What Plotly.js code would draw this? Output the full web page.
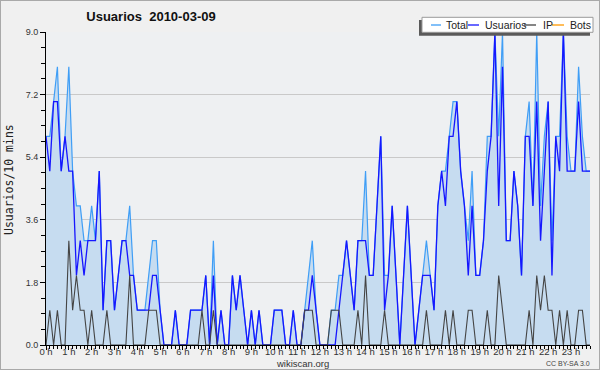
<!DOCTYPE html>
<html>
<head>
<meta charset="utf-8">
<script src="https://cdn.plot.ly/plotly-3.0.1.min.js"></script>
<style>
  html, body { margin: 0; padding: 0; background: #f0f0f0; }
  #wrap { position: relative; width: 600px; height: 370px; }
  #chart { width: 600px; height: 370px; }
  #frame { position: absolute; left: 0; top: 0; width: 600px; height: 370px; box-sizing: border-box; border: 1px solid #a9a9a9; pointer-events: none; }
</style>
</head>
<body>
<div id="wrap"><div id="chart"></div><div id="frame"></div></div>
<script>
// 10-minute intervals, 144 points (0:00 .. 23:50)
const total = [
  6,6,7,8,5,6,8,5,4,4,
  3,3,4,3,5,1,3,3,1,2,
  3,3,4,2,1,1,1,2,3,3,
  1,0,0,0,1,0,0,0,1,1,
  1,1,2,0,3,0,1,0,0,2,
  1,2,1,0,1,0,1,0,0,0,
  1,1,1,0,0,1,0,0,1,2,
  3,1,0,0,0,1,1,2,2,3,
  2,1,3,3,5,2,2,4,6,2,
  2,4,2,0,2,4,2,0,1,2,
  3,2,1,4,5,5,6,7,7,5,
  4,3,5,2,2,3,6,6,9,6,
  9,3,3,5,4,2,6,7,4,9,
  4,6,7,3,6,6,9,6,5,5,
  8,6,5,5
];
const usuarios = [
  6,5,7,7,5,6,5,5,2,3,
  2,3,3,3,5,1,3,3,1,2,
  3,3,2,2,1,1,1,1,2,2,
  1,0,0,0,1,0,0,0,1,1,
  1,1,2,0,2,0,1,0,0,2,
  1,2,1,0,1,0,1,0,0,0,
  1,1,1,0,0,1,0,0,1,1,
  2,1,0,0,0,0,0,1,2,3,
  2,1,3,3,3,2,2,4,6,1,
  2,4,2,0,2,4,2,0,1,2,
  2,2,1,4,5,4,6,6,7,5,
  4,2,4,2,2,3,5,6,9,4,
  8,3,3,5,4,2,6,6,4,7,
  3,5,7,2,6,5,9,5,5,5,
  7,5,5,5
];
const ip = [
  0,1,0,1,0,0,3,1,2,1,
  1,0,1,0,0,0,1,0,0,0,
  0,0,2,0,0,0,0,1,1,1,
  0,0,0,0,0,0,0,0,0,0,
  0,1,0,0,1,0,0,0,0,0,
  0,0,0,0,0,0,0,0,0,0,
  0,0,0,0,0,0,0,0,1,1,
  1,0,0,0,0,1,1,1,0,0,
  0,0,1,0,2,0,0,0,0,1,
  0,0,0,0,0,0,0,0,0,0,
  1,0,0,0,0,1,0,1,0,0,
  0,1,1,0,0,0,1,0,0,2,
  1,0,0,0,0,0,0,1,0,2,
  1,2,1,1,0,1,0,1,0,0,
  1,1,0,0
];
const bots = [
  0,0,0,0,0,0,0,0,0,0, 0,0,0,0,0,0,0,0,0,0,
  0,0,0,0,0,0,0,0,0,0, 0,0,0,0,0,0,0,0,0,0,
  0,0,0,0,0,0,0,0,0,0, 0,0,0,0,0,0,0,0,0,0,
  0,0,0,0,0,0,0,0,0,0, 0,0,0,0,0,0,0,0,0,0,
  0,0,0,0,0,0,0,0,0,0, 0,0,0,0,0,0,0,0,0,0,
  0,0,0,0,0,0,0,0,0,0, 0,0,0,0,0,0,0,0,0,0,
  0,0,0,0,0,0,0,0,0,0, 0,0,0,0,0,0,0,0,0,0,
  0,0,0,0
];
const hourLabels = ["0 h","1 h","2 h","3 h","4 h","5 h","6 h","7 h","8 h","9 h","10 h","11 h",
  "12 h","13 h","14 h","15 h","16 h","17 h","18 h","19 h","20 h","21 h","22 h","23 h"];
const seriesNames = ["Total", "Usuarios", "IP", "Bots"];
const seriesColors = ["#3f9ef6", "#1616ff", "#444444", "#ff9a00"];

const xs = total.map((_, i) => i / 6);

const W = 600, H = 370;
const M = { l: 46, r: 10, t: 32, b: 25 };
const PW = W - M.l - M.r, PH = H - M.t - M.b;
const px = v => (v - M.l) / PW;
const py = v => (H - M.b - v) / PH;

const traces = [
  { x: xs, y: bots, type: 'scatter', mode: 'lines', name: seriesNames[3],
    line: { color: seriesColors[3], width: 1.2 }, hoverinfo: 'skip' },
  { x: xs, y: total, type: 'scatter', mode: 'lines', name: seriesNames[0],
    line: { color: seriesColors[0], width: 1.2 }, fill: 'tozeroy', fillcolor: '#c6dcf0' },
  { x: xs, y: usuarios, type: 'scatter', mode: 'lines', name: seriesNames[1],
    line: { color: seriesColors[1], width: 1.3 } },
  { x: xs, y: ip, type: 'scatter', mode: 'lines', name: seriesNames[2],
    line: { color: seriesColors[2], width: 1.1 } }
];

// manual legend
const legItems = [
  { line: [431, 441], text: 444 },
  { line: [468, 479], text: 483 },
  { line: [524, 536], text: 541 },
  { line: [552, 564], text: 568 }
];
const shapes = [
  { type: 'rect', xref: 'paper', yref: 'paper', x0: px(419), x1: px(590), y0: py(35.7), y1: py(20),
    fillcolor: '#5a5a5a', line: { width: 0 }, layer: 'above' },
  { type: 'rect', xref: 'paper', yref: 'paper', x0: px(422), x1: px(593), y0: py(32.3), y1: py(17.3),
    fillcolor: '#ffffff', line: { color: '#9a9a9a', width: 1 }, layer: 'above' }
];
const annotations = [];
legItems.forEach((it, k) => {
  shapes.push({ type: 'line', xref: 'paper', yref: 'paper', x0: px(it.line[0]), x1: px(it.line[1]),
    y0: py(25), y1: py(25), line: { color: seriesColors[k], width: 1.3 }, layer: 'above' });
  annotations.push({ xref: 'paper', yref: 'paper', x: px(it.text), y: py(25), xanchor: 'left', yanchor: 'middle',
    text: seriesNames[k], showarrow: false, font: { family: 'Liberation Sans, Arial, sans-serif', size: 10.5, color: '#222' } });
});
annotations.push({ xref: 'paper', yref: 'paper', x: px(9), y: py(180), textangle: -90, xanchor: 'center', yanchor: 'middle',
  text: 'Usuarios/10 mins', showarrow: false, font: { family: 'DejaVu Sans Mono, monospace', size: 11.5, color: '#222' } });
annotations.push({ xref: 'paper', yref: 'paper', x: px(302), y: py(363), xanchor: 'center', yanchor: 'middle',
  text: 'wikiscan.org', showarrow: false, font: { family: 'Liberation Sans, Arial, sans-serif', size: 9.5, color: '#333' } });
annotations.push({ xref: 'paper', yref: 'paper', x: px(592), y: py(363), xanchor: 'right', yanchor: 'middle',
  text: 'CC BY-SA 3.0', showarrow: false, font: { family: 'Liberation Sans, Arial, sans-serif', size: 7, color: '#444' } });

const layout = {
  width: W, height: H,
  margin: M,
  paper_bgcolor: '#f0f0f0',
  plot_bgcolor: '#eef0f2',
  showlegend: false,
  title: { text: 'Usuarios  2010-03-09', x: 151 / W, xref: 'container', xanchor: 'center',
    y: 1 - 16 / H, yref: 'container', yanchor: 'middle',
    font: { family: 'Liberation Sans, Arial, sans-serif', size: 13, color: '#111', weight: 'bold' } },
  xaxis: {
    range: [0, 143 / 6], fixedrange: true,
    tickmode: 'array', tickvals: hourLabels.map((_, i) => i), ticktext: hourLabels,
    ticks: 'outside', ticklen: 4, tickcolor: '#000', tickwidth: 1,
    ticklabelstandoff: -6,
    minor: { tickmode: 'linear', tick0: 0, dtick: 1 / 6, ticks: 'outside', ticklen: 3, tickcolor: '#000', tickwidth: 1, showgrid: false },
    showline: true, linecolor: '#000', linewidth: 1,
    showgrid: false, zeroline: false,
    tickfont: { family: 'Liberation Sans, Arial, sans-serif', size: 9.5, color: '#333' }
  },
  yaxis: {
    range: [0, 9], fixedrange: true,
    tickmode: 'linear', tick0: 0, dtick: 1.8, tickformat: '.1f',
    ticks: 'outside', ticklen: 5, tickcolor: '#000', tickwidth: 1,
    minor: { tickmode: 'linear', tick0: 0, dtick: 0.45, ticks: 'outside', ticklen: 4, tickcolor: '#000', tickwidth: 1, showgrid: false },
    showline: true, linecolor: '#000', linewidth: 1,
    showgrid: true, gridcolor: '#c9c9c9', gridwidth: 1, zeroline: false,
    tickfont: { family: 'Liberation Sans, Arial, sans-serif', size: 9, color: '#333' }
  },
  shapes: shapes,
  annotations: annotations
};

Plotly.newPlot('chart', traces, layout, { displayModeBar: false, staticPlot: true });
</script>
</body>
</html>
